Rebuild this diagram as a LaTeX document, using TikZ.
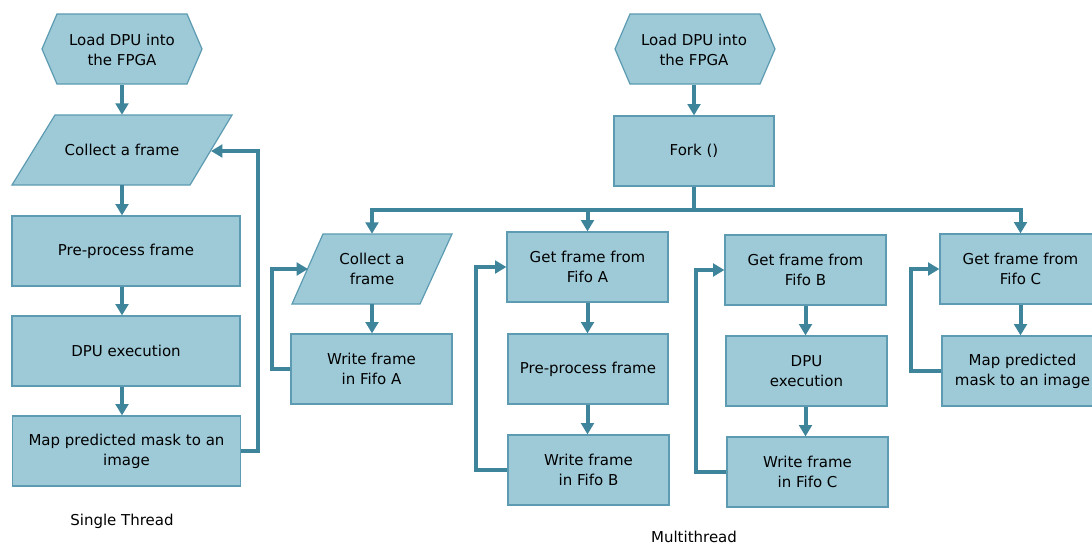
\documentclass[tikz,border=0pt]{standalone}
\usepackage{fontspec}
\setmainfont{DejaVu Sans}
\usetikzlibrary{arrows.meta}
\definecolor{boxfill}{HTML}{9ECAD8}
\definecolor{boxline}{HTML}{5C9BB1}
\definecolor{arrowc}{HTML}{3E849B}
\tikzset{
  box/.style={draw=boxline, line width=0.9pt, fill=boxfill, inner sep=0pt, align=center,
    font=\fontsize{11.25}{15}\selectfont, text=black},
  lbl/.style={inner sep=0pt, align=center, font=\fontsize{11.25}{15}\selectfont, text=black},
  wide/.style={minimum width=171pt, minimum height=52.5pt},
  narrow/.style={minimum width=120.75pt, minimum height=52.5pt},
  shp/.style={draw=boxline, line width=0.9pt, fill=boxfill},
  conn/.style={draw=arrowc, line width=3pt},
  arr/.style={conn, -{Triangle[width=9.5pt,length=8.5pt]}},
}
\begin{document}
\begin{tikzpicture}[x=0.75pt, y=-0.75pt]
\clip (0,0) rectangle (1092,544);
\fill[white] (0,0) rectangle (1092,544);

% ---------- Single thread ----------
\path[shp] (42,49) -- (57,14) -- (187,14) -- (202,49) -- (187,84) -- (57,84) -- cycle;
\node[lbl, minimum width=120pt, minimum height=52.5pt] (hex1) at (122,50) {Load DPU into\\the FPGA};
\path[shp] (55,115) -- (232,115) -- (190,185) -- (12,185) -- cycle;
\node[lbl, minimum width=120pt, minimum height=52.5pt] (par1) at (122,150) {Collect a frame};
\coordinate (par1in) at (211,151);
\node[box, wide] (pre1) at (126,251) {Pre-process frame};
\node[box, wide] (dpu1) at (126,351) {DPU execution};
\node[box, wide] (map1) at (126.5,451) {Map predicted mask to an\\image};
\node[lbl, anchor=base] (st) at (122,525) {Single Thread};

\draw[arr] (hex1.south) -- (par1.north);
\draw[arr] (par1.south) -- (par1.south |- pre1.north);
\draw[arr] (par1.south |- pre1.south) -- (par1.south |- dpu1.north);
\draw[arr] (par1.south |- dpu1.south) -- (par1.south |- map1.north);
\draw[arr] (map1.east) -- ++(17,0) |- (par1in);

% ---------- Multithread ----------
\path[shp] (615,49) -- (630,14) -- (760,14) -- (775,49) -- (760,84) -- (630,84) -- cycle;
\node[lbl, minimum width=120pt, minimum height=52.5pt] (hex2) at (694,50) {Load DPU into\\the FPGA};
\node[box, minimum width=120pt, minimum height=52.5pt] (fork) at (694,151) {Fork ()};

\path[shp] (323,234) -- (452,234) -- (420,304) -- (292,304) -- cycle;
\node[lbl, minimum width=90pt, minimum height=52.5pt] (par2) at (372,269) {Collect a\\frame};
\coordinate (par2in) at (308,269);
\node[box, narrow] (writeA) at (371.5,369) {Write frame\\in Fifo A};

\node[box, narrow] (getA) at (587.5,267) {Get frame from\\Fifo A};
\node[box, minimum width=120pt, minimum height=52.5pt] (preA) at (588,369) {Pre-process frame};
\node[box, narrow] (writeB) at (588.5,470) {Write frame\\in Fifo B};

\node[box, narrow] (getB) at (805.5,270) {Get frame from\\Fifo B};
\node[box, narrow] (dpuB) at (806.5,371) {DPU\\execution};
\node[box, narrow] (writeC) at (807.5,472) {Write frame\\in Fifo C};

\node[box, narrow] (getC) at (1020.5,269) {Get frame from\\Fifo C};
\node[box, narrow] (mapC) at (1022.5,371) {Map predicted\\mask to an image};

\node[lbl, anchor=base] (mt) at (694,542) {Multithread};

\draw[arr] (hex2.south) -- (fork.north);
\draw[conn] (fork.south) -- ++(0,23) coordinate (junc);
\draw[arr] (junc) -| (par2.north);
\draw[arr] (junc) -| (getA.north);
\draw[arr] (junc) -| (getC.north);

\draw[arr] (par2.south) -- (par2.south |- writeA.north);
\draw[arr] (writeA.west) -- ++(-18,0) |- (par2in);

\draw[arr] (getA.south) -- (getA.south |- preA.north);
\draw[arr] (getA.south |- preA.south) -- (getA.south |- writeB.north);
\draw[arr] (writeB.west) -- ++(-31,0) |- (getA.west);

\draw[arr] (getB.south) -- (getB.south |- dpuB.north);
\draw[arr] (getB.south |- dpuB.south) -- (getB.south |- writeC.north);
\draw[arr] (writeC.west) -- ++(-30,0) |- (getB.west);

\draw[arr] (getC.south) -- (getC.south |- mapC.north);
\draw[arr] (mapC.west) -- ++(-30,0) |- (getC.west);
\end{tikzpicture}
\end{document}
